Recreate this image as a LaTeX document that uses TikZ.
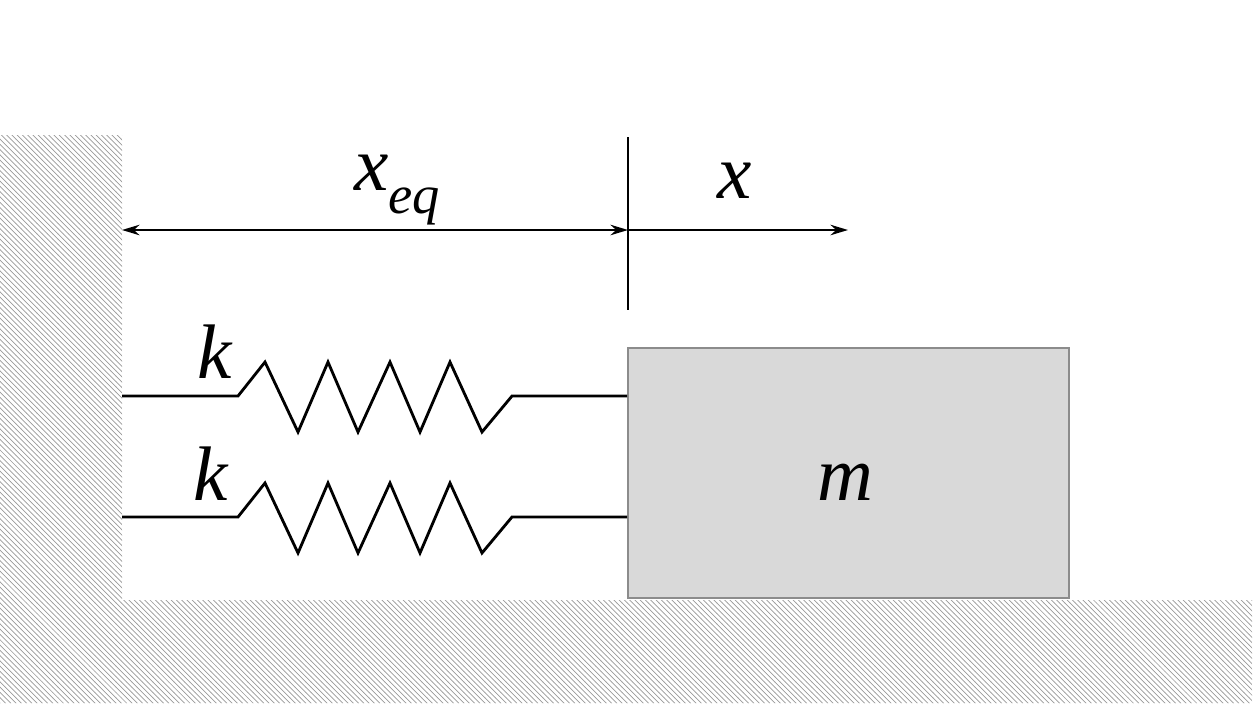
\documentclass[tikz,border=0pt]{standalone}
\usepackage{fontspec}
\setmainfont{Liberation Serif}
\usetikzlibrary{patterns,arrows.meta}
\begin{document}
\begin{tikzpicture}[x=0.02cm,y=-0.02cm,
  hatch/.style={pattern=north west lines,pattern color=gray!80},
  lbl/.style={font=\fontsize{44}{50}\selectfont\itshape,inner sep=0},
  spr/.style={line width=1.6pt,line join=miter},
  dim/.style={line width=1pt,-{Stealth[length=10pt,width=6pt]}}]
\useasboundingbox (0,0) rectangle (1260,703);
\fill[hatch] (0,135) -- (122,135) -- (122,600) -- (1252,600) -- (1252,703) -- (0,703) -- cycle;
\node[draw=gray!90,line width=1.2pt,fill=gray!30,minimum width=441*0.02cm,minimum height=250*0.02cm,anchor=north west] (mass) at (627,347) {};
\node[lbl] (m) at (845,482) {m};
\foreach \y/\n in {396/a,517/b}{
  \coordinate (w\n) at (122,\y);
  \coordinate (s\n) at (627,\y);
  \draw[spr] (w\n) -- (238,\y) -- (265,\y-34) -- (298,\y+36) -- (328,\y-34) -- (358,\y+36) -- (390,\y-34) -- (420,\y+36) -- (450,\y-34) -- (482,\y+36) -- (512,\y) -- (s\n);
}
\node[lbl] (ka) at (215,352) {k};
\node[lbl] (kb) at (211,474) {k};
\coordinate (vt) at (628,137); \coordinate (vb) at (628,310);
\draw[line width=1.2pt] (vt) -- (vb);
\coordinate (dl) at (122,230); \coordinate (dm) at (628,230); \coordinate (dr) at (848,230);
\draw[dim,{Stealth[length=10pt,width=6pt]}-{Stealth[length=10pt,width=6pt]}] (dl) -- (dm);
\draw[dim] (dm) -- (dr);
\node[lbl] (xeq) at (397,190) {x\raisebox{-0.3em}{\fontsize{31}{36}\selectfont eq}};
\node[lbl] (x) at (735,181) {x};
\end{tikzpicture}
\end{document}
